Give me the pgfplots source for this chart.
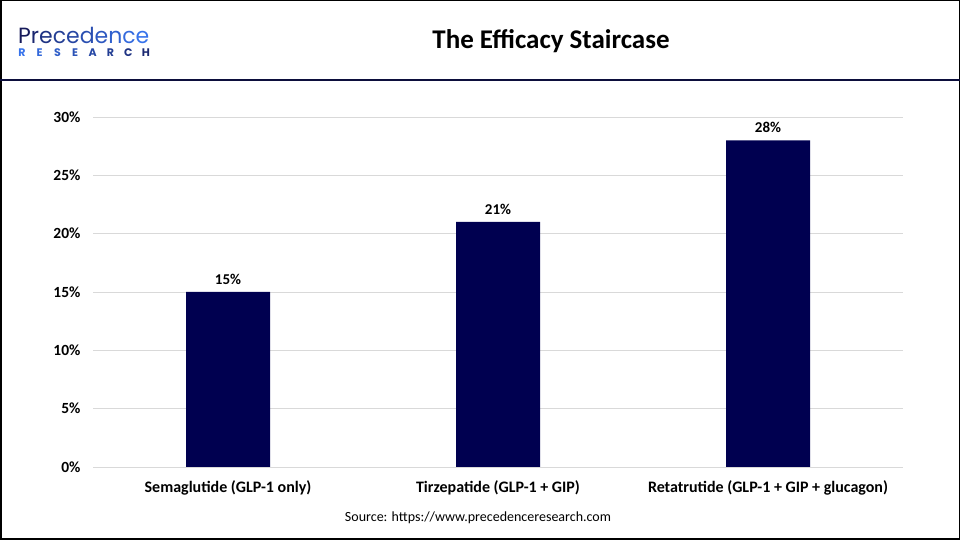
\documentclass[border=0pt]{standalone}
\usepackage{fontspec}
\setmainfont{Carlito}
\newfontfamily\logofont{Poppins}
\usepackage{pgfplots}
\pgfplotsset{compat=1.18}
\definecolor{barnavy}{RGB}{0,0,80}
\definecolor{gridgray}{RGB}{217,217,217}
\definecolor{headline}{RGB}{12,14,60}
\definecolor{logonavy}{RGB}{22,26,90}
\definecolor{logoblue}{RGB}{55,115,235}
\begin{document}
\begin{tikzpicture}[x=1pt,y=1pt]
\path[use as bounding box] (0,0) rectangle (960,540);
% frame and header rule
\draw[black,line width=1.5pt] (0.75,0.75) rectangle (959.25,539.25);
\draw[headline,line width=2.5pt] (0,460) -- (960,460);
% logo
\node[anchor=base west,inner sep=0pt,font=\logofont\fontsize{22}{22}\selectfont] at (18,496)
  {\color{logonavy}P\color{logonavy!85!logoblue}r\color{logonavy!72!logoblue}e\color{logonavy!60!logoblue}c\color{logonavy!50!logoblue}e\color{logonavy!40!logoblue}d\color{logonavy!30!logoblue}e\color{logonavy!20!logoblue}n\color{logonavy!10!logoblue}c\color{logoblue}e};
\foreach \l [count=\i] in {R,E,S,E,A,R,C,H}{
  \pgfmathsetmacro\mix{100-(\i-1)*12}
  \node[anchor=base,inner sep=0pt,font=\logofont\bfseries\fontsize{11}{11}\selectfont,text=logoblue!\mix!logonavy]
    at ({22+(\i-1)*17.7},483) {\l};
}
% title
\node[font=\bfseries\fontsize{27}{30}\selectfont] at (551,499) {The Efficacy Staircase};
% source
\node[font=\fontsize{14}{16}\selectfont] at (478,22) {Source: https://www.precedenceresearch.com};
\begin{axis}[
  at={(93pt,73pt)}, anchor=south west,
  scale only axis, width=810pt, height=350pt,
  ymin=0, ymax=30, ytick={0,5,...,30},
  xmin=-0.5, xmax=2.5, xtick=data,
  xticklabels={Semaglutide (GLP-1 only),Tirzepatide (GLP-1 + GIP),Retatrutide (GLP-1 + GIP + glucagon)},
  axis line style={draw=none},
  tick style={draw=none},
  ymajorgrids, grid style={gridgray,line width=0.8pt},
  yticklabel={\pgfmathprintnumber{\tick}\%},
  /pgf/number format/assume math mode=true,
  yticklabel style={font=\bfseries\fontsize{15.5}{17}\selectfont,xshift=-9pt},
  xticklabel style={font=\bfseries\fontsize{16}{18}\selectfont,yshift=-6pt},
  ybar, bar width=84pt,
  clip=false,
  nodes near coords={\pgfmathprintnumber{\pgfplotspointmeta}\%},
  nodes near coords style={font=\bfseries\fontsize{15}{17}\selectfont,yshift=4pt},
]
\addplot[fill=barnavy,draw=none] coordinates {(0,15) (1,21) (2,28)};
\end{axis}
\end{tikzpicture}
\end{document}
